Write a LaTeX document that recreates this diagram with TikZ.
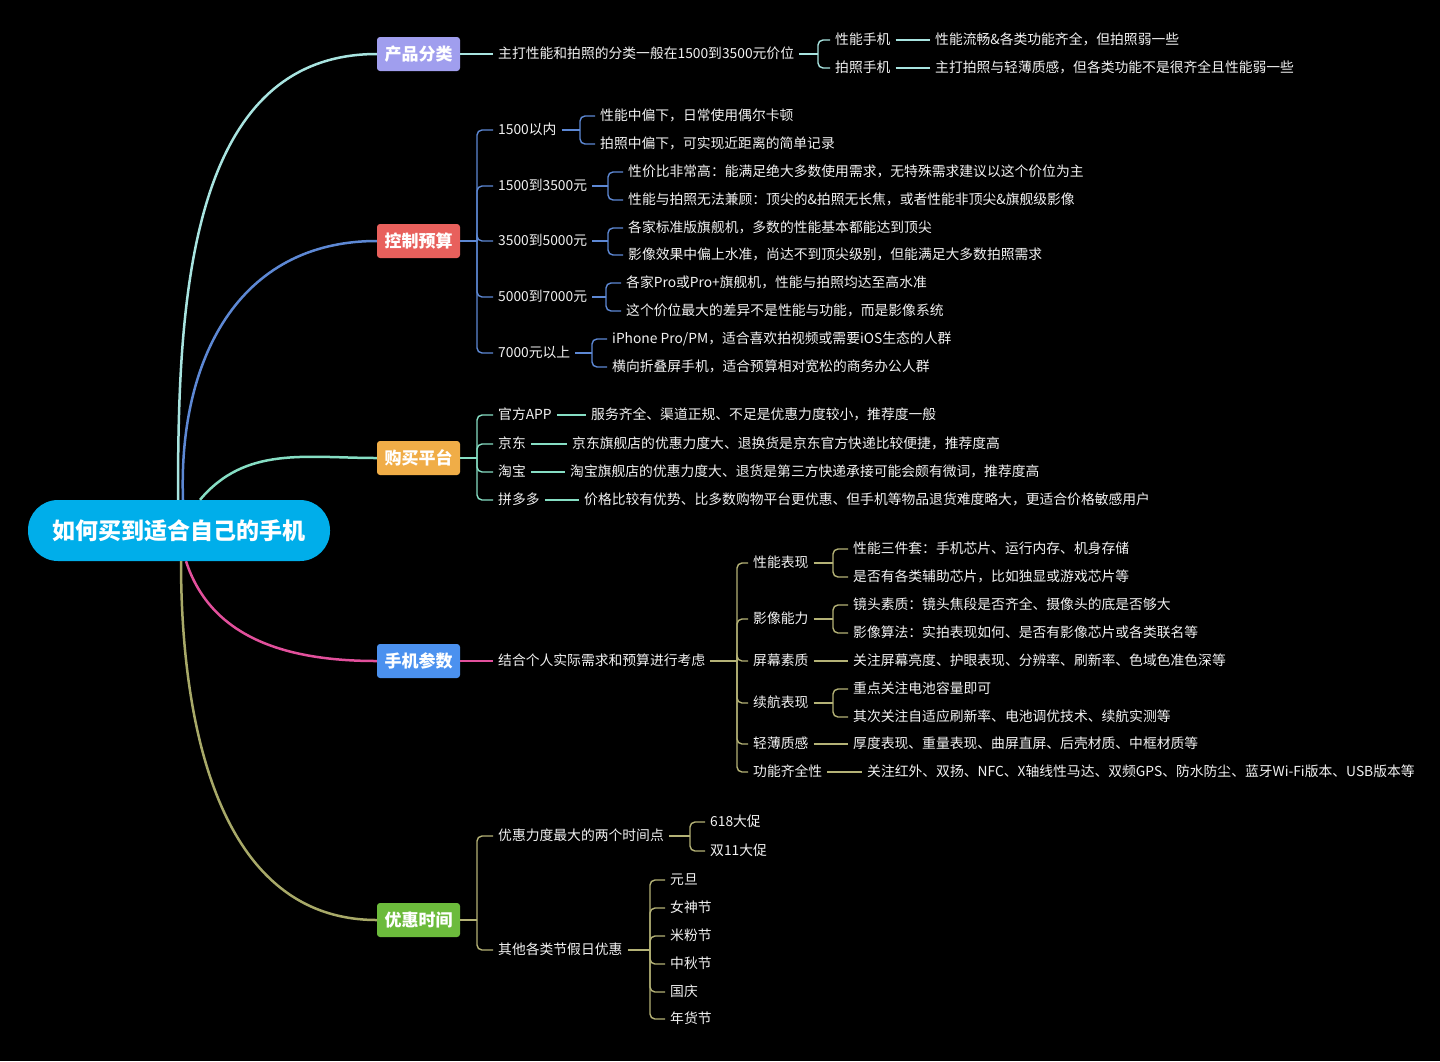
\documentclass[tikz,border=0pt]{standalone}
\usepackage{fontspec}
\setmainfont{Noto Sans CJK SC}
\usetikzlibrary{calc,positioning}
\definecolor{rootblue}{HTML}{00AEEA}
\definecolor{lavender}{HTML}{A09EEE}
\definecolor{coral}{HTML}{E8605C}
\definecolor{amber}{HTML}{F0AD47}
\definecolor{skyblue}{HTML}{4B91EF}
\definecolor{leafgreen}{HTML}{6CBB3C}
\definecolor{paleteal}{HTML}{A8E4E0}
\definecolor{steelblue}{HTML}{5D88D4}
\definecolor{mint}{HTML}{86DEC4}
\definecolor{rose}{HTML}{E2509C}
\definecolor{olive}{HTML}{A8A968}
\definecolor{khaki}{HTML}{B4B276}
\definecolor{offwhite}{HTML}{F2F2F2}

\tikzset{
  root/.style={fill=rootblue, text=white, rounded corners=30pt,
    minimum width=302pt, minimum height=61pt,
    font=\fontsize{23}{26}\selectfont\bfseries},
  topic/.style={fill=#1, text=white, rounded corners=3pt,
    minimum width=83pt, minimum height=34pt,
    font=\fontsize{17}{20}\selectfont\bfseries},
  leaf/.style={text=offwhite, anchor=west, inner xsep=5pt, inner ysep=0pt,
    text height=1em, text depth=0.01em,
    font=\fontsize{13.8}{16}\selectfont},
  branch/.style={line width=2.5pt, #1},
  twig/.style={line width=1.4pt, #1},
  fork/.style={line width=1.4pt, rounded corners=5pt, #1},
}

\begin{document}
\begin{tikzpicture}[x=1pt, y=-1pt]
  \fill[black] (0,0) rectangle (1440,1061);

  % root and main topics
  \node[root] (root) at (179,530.5) {如何买到适合自己的手机};
  \node[topic=lavender] (kind) at (418.5,54) {产品分类};
  \node[topic=coral] (budget) at (418.5,241) {控制预算};
  \node[topic=amber] (shop) at (418.5,458) {购买平台};
  \node[topic=skyblue] (spec) at (418.5,661) {手机参数};
  \node[topic=leafgreen] (sale) at (418.5,920) {优惠时间};

  \coordinate (rootkind) at ($(root.north)+(-1,0)$);
  \coordinate (rootbudget) at ($(root.north)+(4,0)$);
  \coordinate (rootshop) at ($(root.north)+(21,0)$);
  \coordinate (rootspec) at ($(root.south)+(7,0)$);
  \coordinate (rootsale) at ($(root.south)+(2,0)$);

  \draw[branch=paleteal] (rootkind) to[out=90, in=180] (kind.west);
  \draw[branch=steelblue] (rootbudget) to[out=92, in=180, looseness=1.1] (budget.west);
  \draw[branch=mint] (rootshop) to[out=50, in=180] (shop.west);
  \draw[branch=rose] (rootspec) to[out=-72, in=180] (spec.west);
  \draw[branch=olive] (rootsale) to[out=-90, in=180] (sale.west);

  % 产品分类
  \node[leaf] (kindsum) at (493,54) {主打性能和拍照的分类一般在1500到3500元价位};
  \node[leaf] (perf) at (830,40) {性能手机};
  \node[leaf] (photo) at (830,68) {拍照手机};
  \node[leaf] (perfnote) at (930,40) {性能流畅\&各类功能齐全，但拍照弱一些};
  \node[leaf] (photonote) at (930,68) {主打拍照与轻薄质感，但各类功能不是很齐全且性能弱一些};
  \coordinate (kindfork) at (818,54);

  \draw[twig=paleteal] (kind) -- (kindsum);
  \draw[twig=paleteal] (kindsum.east) -- (kindfork);
  \draw[fork=paleteal] (kindfork) |- (perf.west);
  \draw[fork=paleteal] (kindfork) |- (photo.west);
  \draw[twig=paleteal] (perf) -- (perfnote);
  \draw[twig=paleteal] (photo) -- (photonote);

  % 控制预算
  \node[leaf] (lowtier) at (493,130) {1500以内};
  \node[leaf] (midtier) at (493,186) {1500到3500元};
  \node[leaf] (hightier) at (493,241) {3500到5000元};
  \node[leaf] (protier) at (493,297) {5000到7000元};
  \node[leaf] (toptier) at (493,353) {7000元以上};

  \node[leaf] (lowperf) at (595,116) {性能中偏下，日常使用偶尔卡顿};
  \node[leaf] (lowphoto) at (595,144) {拍照中偏下，可实现近距离的简单记录};
  \node[leaf] (midvalue) at (623,172) {性价比非常高：能满足绝大多数使用需求，无特殊需求建议以这个价位为主};
  \node[leaf] (midtrade) at (623,200) {性能与拍照无法兼顾：顶尖的\&拍照无长焦，或者性能非顶尖\&旗舰级影像};
  \node[leaf] (highflag) at (623,228) {各家标准版旗舰机，多数的性能基本都能达到顶尖};
  \node[leaf] (highimage) at (623,255) {影像效果中偏上水准，尚达不到顶尖级别，但能满足大多数拍照需求};
  \node[leaf] (profull) at (621,283) {各家Pro或Pro+旗舰机，性能与拍照均达至高水准};
  \node[leaf] (prodiff) at (621,311) {这个价位最大的差异不是性能与功能，而是影像系统};
  \node[leaf] (topiphone) at (607,339) {iPhone Pro/PM，适合喜欢拍视频或需要iOS生态的人群};
  \node[leaf] (topfold) at (607,367) {横向折叠屏手机，适合预算相对宽松的商务办公人群};

  \coordinate (budgetfork) at (477,241);
  \coordinate (lowfork) at (580,130);
  \coordinate (midfork) at (608,186);
  \coordinate (highfork) at (608,241);
  \coordinate (profork) at (606,297);
  \coordinate (topfork) at (592,353);

  \draw[twig=steelblue] (budget.east) -- (budgetfork);
  \draw[fork=steelblue] (budgetfork) |- (lowtier.west);
  \draw[fork=steelblue] (budgetfork) |- (midtier.west);
  \draw[fork=steelblue] (budgetfork) |- (hightier.west);
  \draw[fork=steelblue] (budgetfork) |- (protier.west);
  \draw[fork=steelblue] (budgetfork) |- (toptier.west);

  \draw[twig=steelblue] (lowtier.east) -- (lowfork);
  \draw[fork=steelblue] (lowfork) |- (lowperf.west);
  \draw[fork=steelblue] (lowfork) |- (lowphoto.west);
  \draw[twig=steelblue] (midtier.east) -- (midfork);
  \draw[fork=steelblue] (midfork) |- (midvalue.west);
  \draw[fork=steelblue] (midfork) |- (midtrade.west);
  \draw[twig=steelblue] (hightier.east) -- (highfork);
  \draw[fork=steelblue] (highfork) |- (highflag.west);
  \draw[fork=steelblue] (highfork) |- (highimage.west);
  \draw[twig=steelblue] (protier.east) -- (profork);
  \draw[fork=steelblue] (profork) |- (profull.west);
  \draw[fork=steelblue] (profork) |- (prodiff.west);
  \draw[twig=steelblue] (toptier.east) -- (topfork);
  \draw[fork=steelblue] (topfork) |- (topiphone.west);
  \draw[fork=steelblue] (topfork) |- (topfold.west);

  % 购买平台
  \node[leaf] (official) at (493,415) {官方APP};
  \node[leaf] (jd) at (493,444) {京东};
  \node[leaf] (taobao) at (493,472) {淘宝};
  \node[leaf] (pdd) at (493,500) {拼多多};
  \node[leaf] (officialnote) at (586,415) {服务齐全、渠道正规、不足是优惠力度较小，推荐度一般};
  \node[leaf] (jdnote) at (567,444) {京东旗舰店的优惠力度大、退换货是京东官方快递比较便捷，推荐度高};
  \node[leaf] (taobaonote) at (565,472) {淘宝旗舰店的优惠力度大、退货是第三方快递承接可能会颇有微词，推荐度高};
  \node[leaf] (pddnote) at (579,500) {价格比较有优势、比多数购物平台更优惠、但手机等物品退货难度略大，更适合价格敏感用户};
  \coordinate (shopfork) at (477,458);

  \draw[twig=mint] (shop.east) -- (shopfork);
  \draw[fork=mint] (shopfork) |- (official.west);
  \draw[fork=mint] (shopfork) |- (jd.west);
  \draw[fork=mint] (shopfork) |- (taobao.west);
  \draw[fork=mint] (shopfork) |- (pdd.west);
  \draw[twig=mint] (official) -- (officialnote);
  \draw[twig=mint] (jd) -- (jdnote);
  \draw[twig=mint] (taobao) -- (taobaonote);
  \draw[twig=mint] (pdd) -- (pddnote);

  % 手机参数
  \node[leaf] (specsum) at (493,661) {结合个人实际需求和预算进行考虑};
  \node[leaf] (cpu) at (748,563) {性能表现};
  \node[leaf] (camera) at (748,619) {影像能力};
  \node[leaf] (screen) at (748,661) {屏幕素质};
  \node[leaf] (battery) at (748,703) {续航表现};
  \node[leaf] (build) at (748,744) {轻薄质感};
  \node[leaf] (extras) at (748,772) {功能齐全性};

  \node[leaf] (cputhree) at (848,549) {性能三件套：手机芯片、运行内存、机身存储};
  \node[leaf] (cpuaux) at (848,577) {是否有各类辅助芯片，比如独显或游戏芯片等};
  \node[leaf] (cameralens) at (848,605) {镜头素质：镜头焦段是否齐全、摄像头的底是否够大};
  \node[leaf] (cameraalgo) at (848,633) {影像算法：实拍表现如何、是否有影像芯片或各类联名等};
  \node[leaf] (screennote) at (848,661) {关注屏幕亮度、护眼表现、分辨率、刷新率、色域色准色深等};
  \node[leaf] (batterycap) at (848,689) {重点关注电池容量即可};
  \node[leaf] (batterytune) at (848,717) {其次关注自适应刷新率、电池调优技术、续航实测等};
  \node[leaf] (buildnote) at (848,744) {厚度表现、重量表现、曲屏直屏、后壳材质、中框材质等};
  \node[leaf] (extrasnote) at (862,772) {关注红外、双扬、NFC、X轴线性马达、双频GPS、防水防尘、蓝牙Wi-Fi版本、USB版本等};

  \coordinate (specfork) at (737,661);
  \coordinate (cpufork) at (833,563);
  \coordinate (camerafork) at (833,619);
  \coordinate (batteryfork) at (833,703);

  \draw[twig=rose] (spec) -- (specsum);
  \draw[twig=khaki] (specsum.east) -- (specfork);
  \draw[fork=khaki] (specfork) |- (cpu.west);
  \draw[fork=khaki] (specfork) |- (camera.west);
  \draw[fork=khaki] (specfork) |- (screen.west);
  \draw[fork=khaki] (specfork) |- (battery.west);
  \draw[fork=khaki] (specfork) |- (build.west);
  \draw[fork=khaki] (specfork) |- (extras.west);

  \draw[twig=khaki] (cpu.east) -- (cpufork);
  \draw[fork=khaki] (cpufork) |- (cputhree.west);
  \draw[fork=khaki] (cpufork) |- (cpuaux.west);
  \draw[twig=khaki] (camera.east) -- (camerafork);
  \draw[fork=khaki] (camerafork) |- (cameralens.west);
  \draw[fork=khaki] (camerafork) |- (cameraalgo.west);
  \draw[twig=khaki] (screen) -- (screennote);
  \draw[twig=khaki] (battery.east) -- (batteryfork);
  \draw[fork=khaki] (batteryfork) |- (batterycap.west);
  \draw[fork=khaki] (batteryfork) |- (batterytune.west);
  \draw[twig=khaki] (build) -- (buildnote);
  \draw[twig=khaki] (extras) -- (extrasnote);

  % 优惠时间
  \node[leaf] (bigsale) at (493,836) {优惠力度最大的两个时间点};
  \node[leaf] (holiday) at (493,950) {其他各类节假日优惠};
  \node[leaf] (sixeighteen) at (705,822) {618大促};
  \node[leaf] (doubleeleven) at (705,851) {双11大促};
  \node[leaf] (newyear) at (665,880) {元旦};
  \node[leaf] (womensday) at (665,908) {女神节};
  \node[leaf] (mifans) at (665,936) {米粉节};
  \node[leaf] (midautumn) at (665,964) {中秋节};
  \node[leaf] (nationalday) at (665,992) {国庆};
  \node[leaf] (springfest) at (665,1019) {年货节};

  \coordinate (salefork) at (477,920);
  \coordinate (bigsalefork) at (690,836);
  \coordinate (holidayfork) at (650,950);

  \draw[twig=khaki] (sale.east) -- (salefork);
  \draw[fork=khaki] (salefork) |- (bigsale.west);
  \draw[fork=khaki] (salefork) |- (holiday.west);
  \draw[twig=khaki] (bigsale.east) -- (bigsalefork);
  \draw[fork=khaki] (bigsalefork) |- (sixeighteen.west);
  \draw[fork=khaki] (bigsalefork) |- (doubleeleven.west);
  \draw[twig=khaki] (holiday.east) -- (holidayfork);
  \draw[fork=khaki] (holidayfork) |- (newyear.west);
  \draw[fork=khaki] (holidayfork) |- (womensday.west);
  \draw[fork=khaki] (holidayfork) |- (mifans.west);
  \draw[fork=khaki] (holidayfork) |- (midautumn.west);
  \draw[fork=khaki] (holidayfork) |- (nationalday.west);
  \draw[fork=khaki] (holidayfork) |- (springfest.west);
\end{tikzpicture}
\end{document}
